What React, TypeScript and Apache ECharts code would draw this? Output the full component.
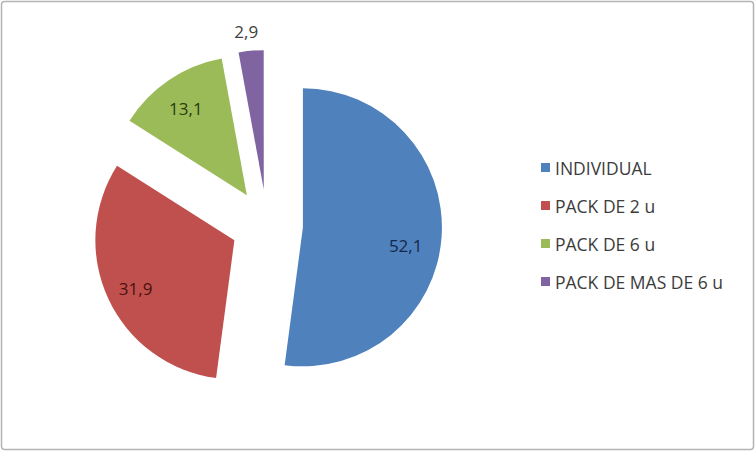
import React, { useEffect, useRef } from "react";
import * as echarts from "echarts";

const categories = ["INDIVIDUAL", "PACK DE 2 u", "PACK DE 6 u", "PACK DE MAS DE 6 u"];
const values = [52.1, 31.9, 13.1, 2.9];
const colors = ["#4f81bd", "#c0504d", "#9bbb59", "#8064a2"];
const labelColors = ["#13284d", "#4a1010", "#2d3b0c", "#404040"];
// which label ring each value label sits on: 0 = inside the slice, 1 = just outside it
const labelRing = [0, 0, 0, 1];

const FONT = "'Open Sans', 'Liberation Sans', sans-serif";

const fmt = (v: number) => v.toFixed(1).replace(".", ",");

export default function App() {
  const ref = useRef<HTMLDivElement>(null);
  useEffect(() => {
    if (!ref.current) return;
    const chart = echarts.init(ref.current, undefined, { renderer: "svg" });
    const center = [267, 225];
    const offset = 36;
    // small label nudges, mimicking the spreadsheet's "best fit" placement
    const nudge: Record<number, { dx: number; dy: number }> = {
      0: { dx: -6, dy: 11 },
      1: { dx: 0, dy: 2 },
      2: { dx: 0, dy: 4 },
      3: { dx: -3, dy: 1 },
    };
    const common = {
      type: "pie",
      center,
      startAngle: 90,
      clockwise: true,
      selectedMode: "multiple",
      selectedOffset: offset,
      avoidLabelOverlap: false,
      animation: false,
    };
    const mainData = categories.map((name, i) => ({
      name,
      value: values[i],
      selected: true,
      itemStyle: { color: colors[i] },
    }));
    const overlayData = (ring: number) =>
      categories.map((name, i) => ({
        name,
        value: values[i],
        selected: true,
        itemStyle: { color: "rgba(0,0,0,0)" },
        label: {
          show: labelRing[i] === ring,
          position: "inside",
          color: labelColors[i],
        },
      }));
    const labelSeries = (name: string, radius: number[], ring: number) => ({
      ...common,
      name,
      radius,
      silent: true,
      emphasis: { disabled: true },
      labelLine: { show: false },
      label: {
        fontFamily: FONT,
        fontSize: 17,
        formatter: (p: any) => fmt(p.value),
      },
      labelLayout: (p: any) => nudge[p.dataIndex] || {},
      data: overlayData(ring),
    });
    chart.setOption({
      animation: false,
      backgroundColor: "#ffffff",
      graphic: [
        {
          type: "rect",
          shape: { x: 1.5, y: 1.5, width: 752, height: 448, r: 3 },
          style: { fill: "none", stroke: "#b4b4b4", lineWidth: 1.5 },
          silent: true,
          z: -1,
        },
      ],
      legend: {
        orient: "vertical",
        left: 541,
        top: 158,
        padding: 0,
        data: categories,
        icon: "rect",
        itemWidth: 9,
        itemHeight: 9,
        itemGap: 19,
        selectedMode: false,
        textStyle: { fontFamily: FONT, fontSize: 17.5, lineHeight: 19, color: "#3c3c3c" },
      },
      series: [
        {
          ...common,
          name: "main",
          radius: [0, 139],
          label: { show: false },
          labelLine: { show: false },
          emphasis: { disabled: true },
          data: mainData,
        },
        labelSeries("labelsInside", [73, 139], 0),
        labelSeries("labelsOutside", [139, 173], 1),
      ],
    });
    return () => chart.dispose();
  }, []);
  return (
    <div
      ref={ref}
      style={{ position: "absolute", left: 0, top: 0, width: 756, height: 452, background: "#fff" }}
    />
  );
}
